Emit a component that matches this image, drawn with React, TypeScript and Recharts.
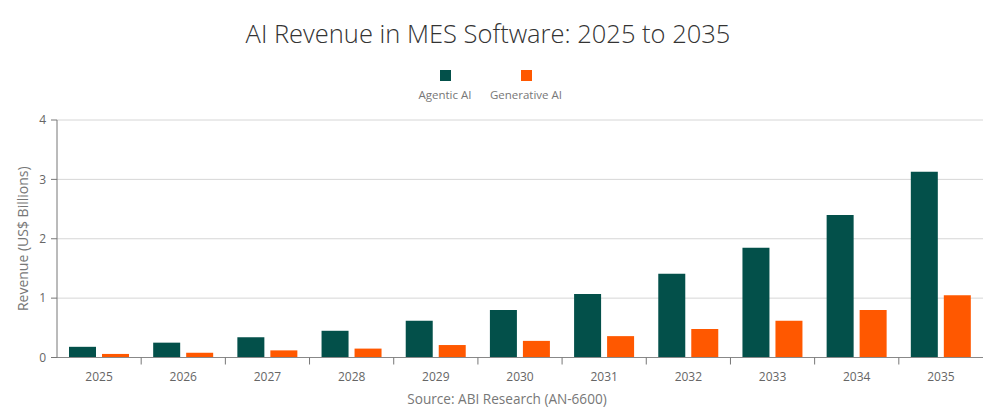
import React from 'react';
import { BarChart, Bar, XAxis, YAxis, CartesianGrid, Legend } from 'recharts';

const years = ['2025', '2026', '2027', '2028', '2029', '2030', '2031', '2032', '2033', '2034', '2035'];
const agentic = [0.18, 0.25, 0.34, 0.45, 0.62, 0.8, 1.07, 1.41, 1.85, 2.4, 3.13];
const generative = [0.06, 0.08, 0.12, 0.15, 0.21, 0.28, 0.36, 0.48, 0.62, 0.8, 1.05];
const yTicks = [0, 1, 2, 3, 4];
const seriesKeys = ['agentic', 'generative'];
const seriesNames = ['Agentic AI', 'Generative AI'];
const seriesColors = ['#03504A', '#FF5800'];
const titleText = 'AI Revenue in MES Software: 2025 to 2035';
const yAxisTitle = 'Revenue (US$ Billions)';
const sourceText = 'Source: ABI Research (AN-6600)';

const data = years.map((y, i) => ({ year: y, agentic: agentic[i], generative: generative[i] }));

const FONT = '"Open Sans", "Noto Sans", sans-serif';
const W = 994;
const H = 420;

const XTick = (props: any) => {
  const { x, y, payload, index, width } = props;
  const band = (width || 926.6) / years.length;
  return (
    <g>
      {index > 0 && (
        <line x1={x - band / 2} x2={x - band / 2} y1={y} y2={y + 7} stroke="#777" strokeWidth={1} />
      )}
      <text x={x} y={y + 19} textAnchor="middle" dominantBaseline="central" fontSize={12} fill="#666" fontFamily={FONT}>
        {payload.value}
      </text>
    </g>
  );
};

const LegendContent = () => {
  const centers = [445, 526];
  return (
    <div style={{ position: 'relative', width: W, height: 40 }}>
      {seriesNames.map((n, i) => (
        <div
          key={n}
          style={{
            position: 'absolute',
            left: centers[i] - 60,
            top: 0,
            width: 120,
            display: 'flex',
            flexDirection: 'column',
            alignItems: 'center',
          }}
        >
          <div style={{ width: 11, height: 11, background: seriesColors[i] }} />
          <div style={{ fontSize: 11.5, color: '#777', fontFamily: FONT, marginTop: 6, lineHeight: '16px', whiteSpace: 'nowrap' }}>{n}</div>
        </div>
      ))}
    </div>
  );
};

const YLabel = (props: any) => {
  const vb = props.viewBox || { y: 120, height: 237 };
  const cy = vb.y + vb.height / 2;
  return (
    <text
      x={22}
      y={cy}
      transform={`rotate(-90, 22, ${cy})`}
      textAnchor="middle"
      dominantBaseline="central"
      fontSize={14}
      fill="#777"
      fontFamily={FONT}
    >
      {yAxisTitle}
    </text>
  );
};

export default function App() {
  return (
    <div style={{ position: 'absolute', left: 0, top: 0, width: W, height: H, background: '#fff' }}>
      <BarChart
        width={W}
        height={H}
        data={data}
        margin={{ top: 120, right: 11, left: 0, bottom: 0 }}
        barGap={6}
        barSize={27}
      >
        <CartesianGrid vertical={false} stroke="#d6d6d6" />
        <XAxis
          dataKey="year"
          height={62.5}
          tickLine={false}
          tickSize={0}
          tickMargin={0}
          axisLine={{ stroke: '#888' }}
          tick={<XTick />}
          interval={0}
        />
        <YAxis
          width={57}
          domain={[0, 4]}
          ticks={yTicks}
          tickSize={6}
          tickMargin={5}
          axisLine={{ stroke: '#777' }}
          tickLine={{ stroke: '#777' }}
          tick={{ fontSize: 12, fill: '#666', fontFamily: FONT }}
          label={<YLabel />}
        />
        <Legend
          layout="horizontal"
          verticalAlign="middle"
          align="center"
          wrapperStyle={{ top: 70, left: 0, width: W }}
          content={<LegendContent />}
        />
        {seriesKeys.map((k, i) => (
          <Bar key={k} dataKey={k} name={seriesNames[i]} fill={seriesColors[i]} isAnimationActive={false} />
        ))}
      </BarChart>
      <svg width={W} height={H} style={{ position: 'absolute', left: 0, top: 0, pointerEvents: 'none' }}>
        <text x={488} y={43} textAnchor="middle" fontSize={25.5} fontWeight={300} fill="#333" fontFamily={FONT}>
          {titleText}
        </text>
        <text x={507} y={404} textAnchor="middle" fontSize={13.6} fill="#777" fontFamily={FONT}>
          {sourceText}
        </text>
      </svg>
    </div>
  );
}
